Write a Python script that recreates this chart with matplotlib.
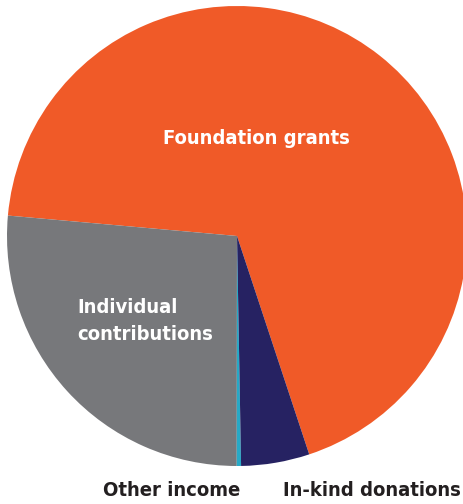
import matplotlib.pyplot as plt

# revenue share (%)
categories = ['Foundation grants', 'Individual contributions', 'Other income', 'In-kind donations']
shares = [68.5, 26.4, 0.3, 4.8]
colors = ['#F05A28', '#77787B', '#27A9C6', '#262262']

W, H = 464, 504
fig = plt.figure(figsize=(W / 100, H / 100), dpi=100)
ax = fig.add_axes([0, 0, 1, 1])

ax.pie(shares, colors=colors, startangle=-71.7, counterclock=True,
       center=(237, H - 236), radius=230, frame=True,
       wedgeprops=dict(linewidth=0))
ax.set_xlim(0, W)
ax.set_ylim(0, H)
ax.set_aspect('equal')
ax.axis('off')

font = dict(family=['DejaVu Sans'], stretch='condensed', weight='bold')
ax.text(256, H - 138, 'Foundation grants', color='white', fontsize=14.5,
        ha='center', va='center', **font)
ax.text(77, H - 321, 'Individual\ncontributions', color='white', fontsize=14.5,
        ha='left', va='center', linespacing=1.5, **font)
ax.text(172, H - 491, 'Other income', color='#231F20', fontsize=14.5,
        ha='center', va='center', **font)
ax.text(372, H - 491, 'In-kind donations', color='#231F20', fontsize=14.5,
        ha='center', va='center', **font)

fig.savefig('out.png', dpi=100)
